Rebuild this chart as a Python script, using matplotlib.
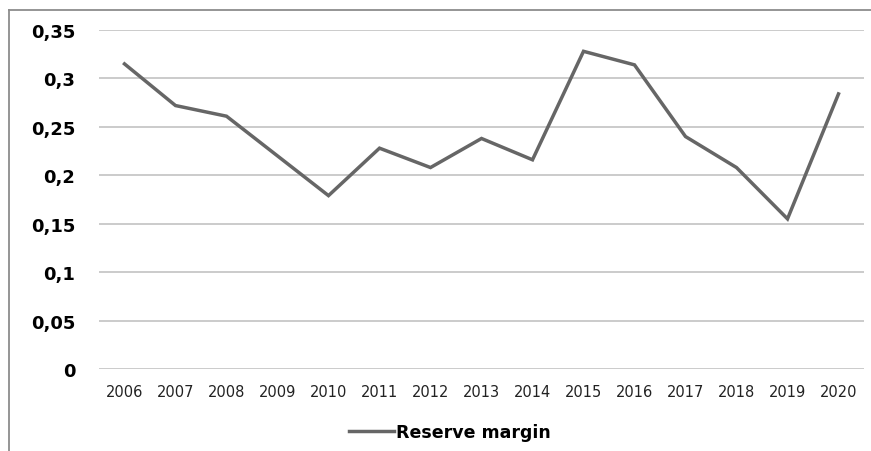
import matplotlib
matplotlib.use("Agg")
import matplotlib.pyplot as plt
from matplotlib.lines import Line2D
from matplotlib.ticker import FuncFormatter

# data
years = ["2006", "2007", "2008", "2009", "2010", "2011", "2012", "2013",
         "2014", "2015", "2016", "2017", "2018", "2019", "2020"]
reserve_margin = [0.315, 0.272, 0.261, 0.220, 0.179, 0.228, 0.208, 0.238,
                  0.216, 0.328, 0.314, 0.240, 0.208, 0.155, 0.284]
y_ticks = [0, 0.05, 0.1, 0.15, 0.2, 0.25, 0.3, 0.35]

W, H = 871, 452
fig = plt.figure(figsize=(W / 100, H / 100), dpi=100)
ax = fig.add_axes([99 / W, 1 - 370 / H, (864 - 99) / W, (370 - 31) / H])

x = list(range(len(years)))
ax.plot(x, reserve_margin, color="#666666", linewidth=2.5, solid_joinstyle="miter")

ax.set_xlim(-0.5, len(years) - 0.5)
ax.set_ylim(0, 0.35)
ax.set_yticks(y_ticks)
ax.yaxis.set_major_formatter(FuncFormatter(lambda v, p: ("%g" % round(v, 2)).replace(".", ",")))
ax.set_xticks(x)
ax.set_xticklabels(years)

ax.grid(axis="y", color="#bdbdbd", linewidth=1.1)
ax.set_axisbelow(True)
for s in ax.spines.values():
    s.set_visible(False)

ax.tick_params(axis="y", length=0, pad=17, labelsize=13, labelcolor="black")
for lbl in ax.get_yticklabels():
    lbl.set_fontweight("bold")
ax.tick_params(axis="x", length=0, pad=11, labelsize=10.5, labelcolor="#222222")

# legend below the plot
handle = Line2D([], [], color="#666666", linewidth=2.5)
leg = fig.legend([handle], ["Reserve margin"], loc="center",
                 bbox_to_anchor=(450 / W, 1 - 433 / H), frameon=False,
                 handlelength=2.6, handletextpad=0.15,
                 prop={"weight": "bold", "size": 12.5})

# chart border (cut off at right and bottom like the source)
fig.add_artist(Line2D([9 / W, 9 / W], [0, 1 - 11 / H], color="#8c8c8c", linewidth=1.3))
fig.add_artist(Line2D([9 / W, 1], [1 - 11 / H, 1 - 11 / H], color="#8c8c8c", linewidth=1.3))

fig.savefig("out.png", dpi=100)
